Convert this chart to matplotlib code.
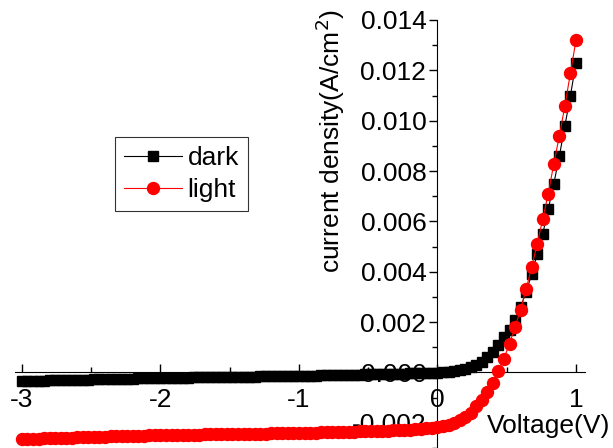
import matplotlib
matplotlib.use("Agg")
import matplotlib.pyplot as plt
from matplotlib.ticker import MultipleLocator, FormatStrFormatter

plt.rcParams['font.family'] = ['Liberation Sans', 'DejaVu Sans']

# voltage sweep, 0.04 V step
voltage = [
    -3.00, -2.96, -2.92, -2.88, -2.84, -2.80, -2.76, -2.72, -2.68, -2.64,
    -2.60, -2.56, -2.52, -2.48, -2.44, -2.40, -2.36, -2.32, -2.28, -2.24,
    -2.20, -2.16, -2.12, -2.08, -2.04, -2.00, -1.96, -1.92, -1.88, -1.84,
    -1.80, -1.76, -1.72, -1.68, -1.64, -1.60, -1.56, -1.52, -1.48, -1.44,
    -1.40, -1.36, -1.32, -1.28, -1.24, -1.20, -1.16, -1.12, -1.08, -1.04,
    -1.00, -0.96, -0.92, -0.88, -0.84, -0.80, -0.76, -0.72, -0.68, -0.64,
    -0.60, -0.56, -0.52, -0.48, -0.44, -0.40, -0.36, -0.32, -0.28, -0.24,
    -0.20, -0.16, -0.12, -0.08, -0.04, 0.00, 0.04, 0.08, 0.12, 0.16,
    0.20, 0.24, 0.28, 0.32, 0.36, 0.40, 0.44, 0.48, 0.52, 0.56,
    0.60, 0.64, 0.68, 0.72, 0.76, 0.80, 0.84, 0.88, 0.92, 0.96,
    1.00,
]

dark = [
    -0.00034, -0.00033, -0.00033, -0.00032, -0.00032, -0.00031, -0.00031, -0.00030, -0.00030, -0.00029,
    -0.00029, -0.00028, -0.00028, -0.00027, -0.00027, -0.00026, -0.00026, -0.00025, -0.00025, -0.00024,
    -0.00024, -0.00023, -0.00023, -0.00022, -0.00022, -0.00021, -0.00021, -0.00021, -0.00020, -0.00020,
    -0.00020, -0.00019, -0.00019, -0.00019, -0.00019, -0.00018, -0.00018, -0.00018, -0.00018, -0.00017,
    -0.00017, -0.00017, -0.00017, -0.00016, -0.00016, -0.00016, -0.00016, -0.00015, -0.00015, -0.00015,
    -0.00014, -0.00014, -0.00013, -0.00013, -0.00012, -0.00012, -0.00011, -0.00011, -0.00010, -0.00010,
    -0.00009, -0.00009, -0.00008, -0.00008, -0.00007, -0.00007, -0.00006, -0.00006, -0.00005, -0.00005,
    -0.00004, -0.00004, -0.00003, -0.00003, -0.00002, -0.00002, 0.00000, 0.00002, 0.00005, 0.00008,
    0.00013, 0.00020, 0.00030, 0.00043, 0.00060, 0.00082, 0.00110, 0.00140, 0.00170, 0.00210,
    0.00260, 0.00320, 0.00390, 0.00470, 0.00550, 0.00650, 0.00750, 0.00860, 0.00980, 0.01100,
    0.01230,
]

light = [
    -0.00265, -0.00264, -0.00264, -0.00263, -0.00262, -0.00262, -0.00261, -0.00260, -0.00260, -0.00259,
    -0.00258, -0.00258, -0.00257, -0.00256, -0.00256, -0.00255, -0.00254, -0.00254, -0.00253, -0.00252,
    -0.00252, -0.00251, -0.00251, -0.00250, -0.00250, -0.00249, -0.00249, -0.00248, -0.00248, -0.00248,
    -0.00247, -0.00247, -0.00247, -0.00246, -0.00246, -0.00246, -0.00245, -0.00245, -0.00245, -0.00244,
    -0.00244, -0.00244, -0.00243, -0.00243, -0.00243, -0.00242, -0.00242, -0.00241, -0.00241, -0.00240,
    -0.00240, -0.00240, -0.00239, -0.00239, -0.00238, -0.00238, -0.00237, -0.00237, -0.00236, -0.00236,
    -0.00235, -0.00234, -0.00234, -0.00233, -0.00232, -0.00232, -0.00231, -0.00230, -0.00229, -0.00228,
    -0.00227, -0.00226, -0.00224, -0.00222, -0.00220, -0.00217, -0.00213, -0.00207, -0.00199, -0.00189,
    -0.00177, -0.00160, -0.00135, -0.00108, -0.00078, -0.00040, 0.00005, 0.00055, 0.00115, 0.00180,
    0.00250, 0.00330, 0.00420, 0.00510, 0.00610, 0.00710, 0.00830, 0.00940, 0.01060, 0.01190,
    0.01320,
]

fs = 19

fig = plt.figure(figsize=(6.13, 4.48), dpi=100)
ax = fig.add_axes([15 / 613, 0, 570 / 613, 428 / 448])

ax.plot(voltage, dark, color='black', lw=0.8, marker='s', ms=6.8,
        label='dark', zorder=3, clip_on=False)
ax.plot(voltage, light, color='red', lw=0.8, marker='o', ms=8.6,
        label='light', zorder=4, clip_on=False)

ax.set_xlim(-3.05, 1.065)
ax.set_ylim(-0.003, 0.014)

# axes crossing at origin
ax.spines['left'].set_position(('data', 0))
ax.spines['bottom'].set_position(('data', 0))
ax.spines['right'].set_visible(False)
ax.spines['top'].set_visible(False)

ax.xaxis.set_major_locator(MultipleLocator(1))
ax.xaxis.set_minor_locator(MultipleLocator(0.5))
ax.yaxis.set_major_locator(MultipleLocator(0.002))
ax.yaxis.set_minor_locator(MultipleLocator(0.001))
ax.yaxis.set_major_formatter(FormatStrFormatter('%.3f'))
ax.xaxis.set_major_formatter(FormatStrFormatter('%d'))

ax.tick_params(axis='x', which='major', direction='in', length=6, width=1,
               labelsize=fs, pad=11)
ax.tick_params(axis='x', which='minor', direction='in', length=3.5, width=1)
ax.tick_params(axis='y', which='major', direction='out', length=6, width=1,
               labelsize=fs, pad=2)
ax.tick_params(axis='y', which='minor', direction='out', length=3.5, width=1)

ax.text(-0.774, 0.0092, 'current density(A/cm$^2$)', rotation=90,
        ha='center', va='center', fontsize=fs)
ax.text(0.36, -0.00213, 'Voltage(V)', ha='left', va='center', fontsize=fs)

leg = ax.legend(loc='upper left', bbox_to_anchor=(100 / 570, 1 - 117 / 428),
                fontsize=fs, frameon=True, fancybox=False, edgecolor='black',
                borderpad=0.35, labelspacing=0.3, handlelength=2.2,
                handletextpad=0.2, borderaxespad=0)
leg.get_frame().set_linewidth(0.8)

fig.savefig('out.png', dpi=100)
